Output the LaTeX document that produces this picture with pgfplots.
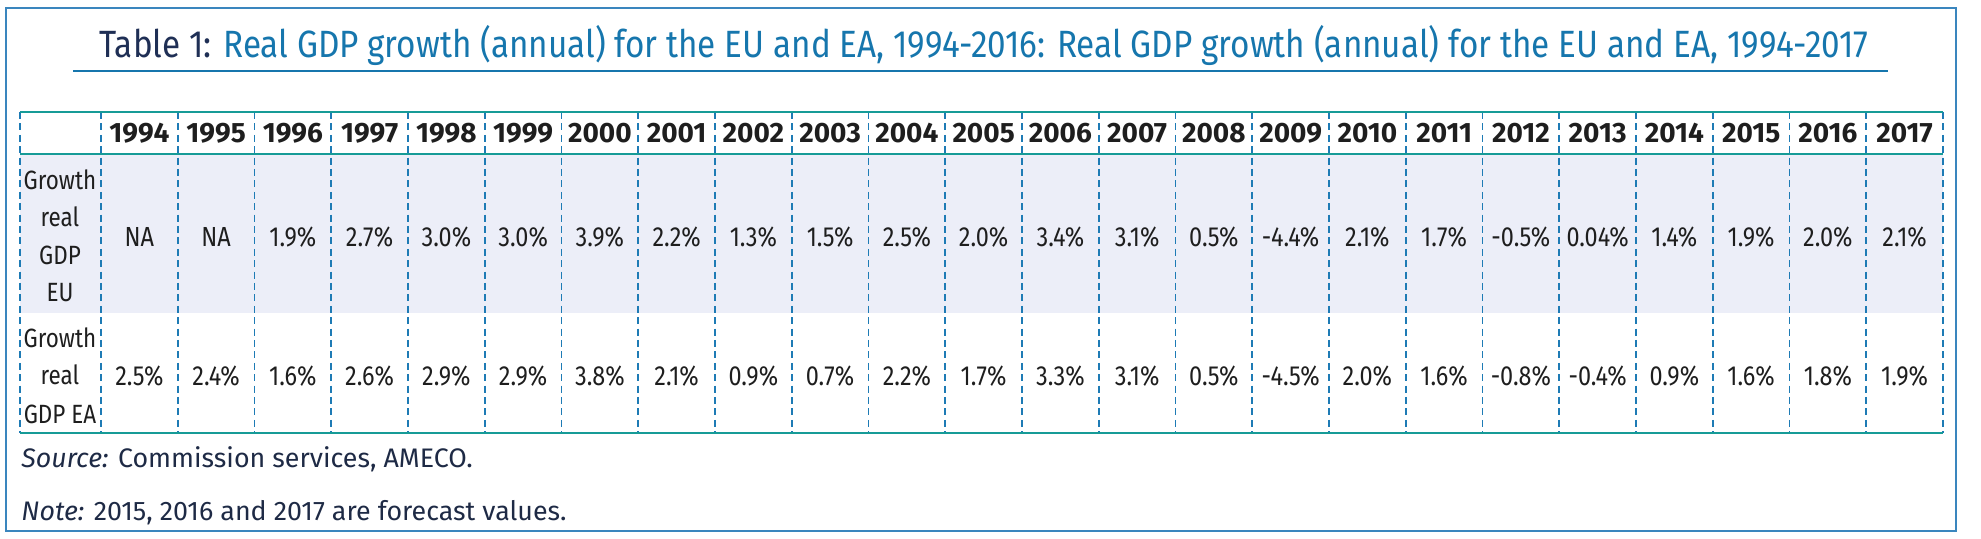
\documentclass[border=0pt]{standalone}
\usepackage{pgfplots}
\pgfplotsset{compat=1.18}
\usepackage{pgfplotstable}
\usepackage{fontspec}
\setmainfont{Fira Sans}[FakeStretch=0.85]
\newfontfamily\hdfont{Fira Sans}
\newfontfamily\titlefont{Fira Sans}[FakeStretch=0.875]
\definecolor{frameblue}{HTML}{3A86BE}
\definecolor{titlenavy}{HTML}{1F2F55}
\definecolor{titleblue}{HTML}{1676AD}
\definecolor{tealline}{HTML}{169B97}
\definecolor{dashblue}{HTML}{1E7BB5}
\definecolor{rowfill}{HTML}{ECEEF8}
\definecolor{txt}{HTML}{1E1E1E}
\definecolor{notetxt}{HTML}{1E2A45}

\pgfplotstableread{
year eu ea
1994 NA 2.5\%
1995 NA 2.4\%
1996 1.9\% 1.6\%
1997 2.7\% 2.6\%
1998 3.0\% 2.9\%
1999 3.0\% 2.9\%
2000 3.9\% 3.8\%
2001 2.2\% 2.1\%
2002 1.3\% 0.9\%
2003 1.5\% 0.7\%
2004 2.5\% 2.2\%
2005 2.0\% 1.7\%
2006 3.4\% 3.3\%
2007 3.1\% 3.1\%
2008 0.5\% 0.5\%
2009 -4.4\% -4.5\%
2010 2.1\% 2.0\%
2011 1.7\% 1.6\%
2012 -0.5\% -0.8\%
2013 0.04\% -0.4\%
2014 1.4\% 0.9\%
2015 1.9\% 1.6\%
2016 2.0\% 1.8\%
2017 2.1\% 1.9\%
}\gdp

\begin{document}
\begin{tikzpicture}
\begin{axis}[
  width=990.5pt, height=269.5pt, scale only axis,
  xmin=0, xmax=1981, ymin=0, ymax=539, y dir=reverse,
  hide axis, clip=false,
]
\path (axis cs:0,0) rectangle (axis cs:1981,539);
% outer frame
\draw[frameblue, line width=1.1pt] (axis cs:6,8) rectangle (axis cs:1956,531);
% title
\node[anchor=base west, inner sep=0pt, font=\titlefont\fontsize{19}{22}\selectfont] at (axis cs:99,58)
  {\textcolor{titlenavy}{Table 1:} \textcolor{titleblue}{Real GDP growth (annual) for the EU and EA, 1994-2016: Real GDP growth (annual) for the EU and EA, 1994-2017}};
\draw[titleblue, line width=1pt] (axis cs:73,71) -- (axis cs:1888,71);
% EU row shading
\fill[rowfill] (axis cs:20,154) rectangle (axis cs:1943,313);
% dashed vertical lines
\draw[dashblue, dash pattern=on 3.5pt off 2.2pt, line width=0.9pt] (axis cs:20,112) -- (axis cs:20,433);
\pgfplotsinvokeforeach{0,...,24}{
  \draw[dashblue, dash pattern=on 3.5pt off 2.2pt, line width=0.9pt] (axis cs:{101+76.75*#1},112) -- (axis cs:{101+76.75*#1},433);
}
% teal horizontal rules
\draw[tealline, line width=1.4pt] (axis cs:20,112) -- (axis cs:1943,112);
\draw[tealline, line width=1.4pt] (axis cs:20,154) -- (axis cs:1943,154);
\draw[tealline, line width=1.4pt] (axis cs:20,433) -- (axis cs:1943,433);
% header years
\addplot[draw=none, mark=none, nodes near coords={\pgfplotspointmeta}, point meta=explicit symbolic,
  every node near coord/.style={anchor=base, inner sep=0pt, text=txt, font=\hdfont\bfseries\fontsize{14}{16}\selectfont}]
  table[x expr={101+76.75*(\thisrow{year}-1993.5)}, y expr=143, meta=year]{\gdp};
% EU row
\addplot[draw=none, mark=none, nodes near coords={\pgfplotspointmeta}, point meta=explicit symbolic,
  every node near coord/.style={anchor=base, inner sep=0pt, text=txt, font=\fontsize{13.8}{16}\selectfont}]
  table[x expr={101+76.75*(\thisrow{year}-1993.5)}, y expr=247, meta=eu]{\gdp};
% EA row
\addplot[draw=none, mark=none, nodes near coords={\pgfplotspointmeta}, point meta=explicit symbolic,
  every node near coord/.style={anchor=base, inner sep=0pt, text=txt, font=\fontsize{13.8}{16}\selectfont}]
  table[x expr={101+76.75*(\thisrow{year}-1993.5)}, y expr=386, meta=ea]{\gdp};
% row labels
\begin{scope}[every node/.style={anchor=base, inner sep=0pt, text=txt, font=\fontsize{13.2}{16}\selectfont}]
\node at (axis cs:60,190) {Growth};
\node at (axis cs:60,227) {real};
\node at (axis cs:60,265) {GDP};
\node at (axis cs:60,302) {EU};
\node at (axis cs:60,348) {Growth};
\node at (axis cs:60,385) {real};
\node at (axis cs:60,423) {GDP EA};
\end{scope}
% source and note
\node[anchor=base west, inner sep=0pt, text=notetxt, font=\hdfont\fontsize{13.4}{15}\selectfont] at (axis cs:21,467) {\textit{Source:} Commission services, AMECO.};
\node[anchor=base west, inner sep=0pt, text=notetxt, font=\hdfont\fontsize{13.4}{15}\selectfont] at (axis cs:21,520) {\textit{Note:} 2015, 2016 and 2017 are forecast values.};
\end{axis}
\end{tikzpicture}
\end{document}
